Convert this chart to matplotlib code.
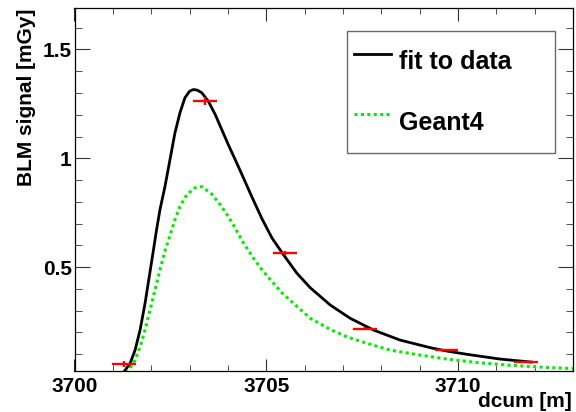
import matplotlib
matplotlib.use("Agg")
import matplotlib.pyplot as plt
from matplotlib.ticker import MultipleLocator, FormatStrFormatter

# fitted curve
fit_x = [3701.26, 3701.45, 3701.58, 3701.71, 3701.84, 3701.95, 3702.06, 3702.14, 3702.23,
         3702.36, 3702.49, 3702.62, 3702.75, 3702.88, 3703.00, 3703.10, 3703.20, 3703.32,
         3703.49, 3703.67, 3703.84, 3704.01, 3704.19, 3704.36, 3704.62, 3704.89, 3705.15,
         3705.45, 3705.80, 3706.15, 3706.67, 3707.19, 3707.80, 3708.49, 3709.28, 3709.70,
         3710.22, 3711.09, 3711.91]
fit_y = [0.012, 0.058, 0.119, 0.211, 0.334, 0.457, 0.580, 0.672, 0.765,
         0.871, 0.994, 1.117, 1.209, 1.278, 1.308, 1.316, 1.313, 1.301,
         1.262, 1.201, 1.132, 1.063, 0.994, 0.928, 0.825, 0.722, 0.634,
         0.557, 0.472, 0.405, 0.326, 0.265, 0.211, 0.165, 0.130, 0.115,
         0.100, 0.078, 0.064]

# Geant4 simulation
g4_x = [3701.36, 3701.58, 3701.71, 3701.84, 3701.97, 3702.10, 3702.23, 3702.36, 3702.49,
        3702.62, 3702.75, 3702.93, 3703.14, 3703.32, 3703.58, 3703.80, 3704.01, 3704.19,
        3704.41, 3704.67, 3704.89, 3705.15, 3705.41, 3705.71, 3706.15, 3706.67, 3707.10,
        3707.63, 3708.23, 3709.02, 3709.70, 3710.50, 3711.30, 3712.13, 3713.0]
g4_y = [0.012, 0.073, 0.134, 0.211, 0.303, 0.395, 0.488, 0.575, 0.645,
        0.718, 0.779, 0.833, 0.864, 0.870, 0.836, 0.787, 0.733, 0.680,
        0.610, 0.541, 0.488, 0.434, 0.382, 0.334, 0.265, 0.214, 0.180,
        0.150, 0.119, 0.096, 0.078, 0.062, 0.050, 0.041, 0.034]

# measured BLM signals
data_x = [3701.30, 3703.41, 3705.49, 3707.58, 3709.70, 3711.78]
data_y = [0.055, 1.264, 0.564, 0.217, 0.119, 0.064]
data_xerr = [0.31, 0.31, 0.31, 0.31, 0.31, 0.31]
data_yerr = [0.012, 0.018, 0.008, 0.006, 0.004, 0.006]

plt.rcParams['font.family'] = ['Liberation Sans', 'DejaVu Sans']
plt.rcParams['font.weight'] = 'bold'

fig = plt.figure(figsize=(5.76, 4.12), dpi=100)
ax = fig.add_axes([74.5/576, 41/412, 498.5/576, 362.7/412])

ax.plot(fit_x, fit_y, color='black', lw=2.0, label='fit to data', zorder=3,
        solid_joinstyle='round')
ax.plot(g4_x, g4_y, color='#00ee00', lw=2.2, linestyle=(0, (1, 1.1)), label='Geant4', zorder=2)
ax.errorbar(data_x, data_y, xerr=data_xerr, yerr=data_yerr, fmt='none',
            ecolor='red', elinewidth=1.7, capsize=0, zorder=4)

ax.set_xlim(3700, 3713)
ax.set_ylim(0.023, 1.689)

ax.xaxis.set_major_locator(MultipleLocator(5))
ax.xaxis.set_minor_locator(MultipleLocator(1))
ax.yaxis.set_major_locator(MultipleLocator(0.5))
ax.yaxis.set_minor_locator(MultipleLocator(0.1))
ax.yaxis.set_major_formatter(FormatStrFormatter('%g'))

ax.tick_params(axis='both', which='both', direction='in', top=True, right=True,
               labelsize=15, color='#333333')
ax.tick_params(axis='x', which='major', length=9, pad=4)
ax.tick_params(axis='x', which='minor', length=4.5)
ax.tick_params(axis='y', which='major', length=10.8, pad=2)
ax.tick_params(axis='y', which='minor', length=5)
for s in ax.spines.values():
    s.set_linewidth(0.9)

ax.set_xlabel('dcum [m]', fontsize=15, fontweight='bold', loc='right')
ax.xaxis.set_label_coords(0.997, -0.057)
ax.set_ylabel('BLM signal [mGy]', fontsize=15, fontweight='bold', loc='top')
ax.yaxis.set_label_coords(-0.077, 1.0)

leg = ax.legend(loc='upper left', bbox_to_anchor=(0.546, 0.938, 0.418, 0.0), mode='expand',
                fontsize=18, frameon=True, fancybox=False, edgecolor='#444444',
                borderpad=0.29, labelspacing=0.55, handlelength=1.47, handletextpad=0.34,
                handleheight=2.5, borderaxespad=0.0)
leg.get_frame().set_linewidth(1.0)

fig.savefig('out.png', dpi=100)
